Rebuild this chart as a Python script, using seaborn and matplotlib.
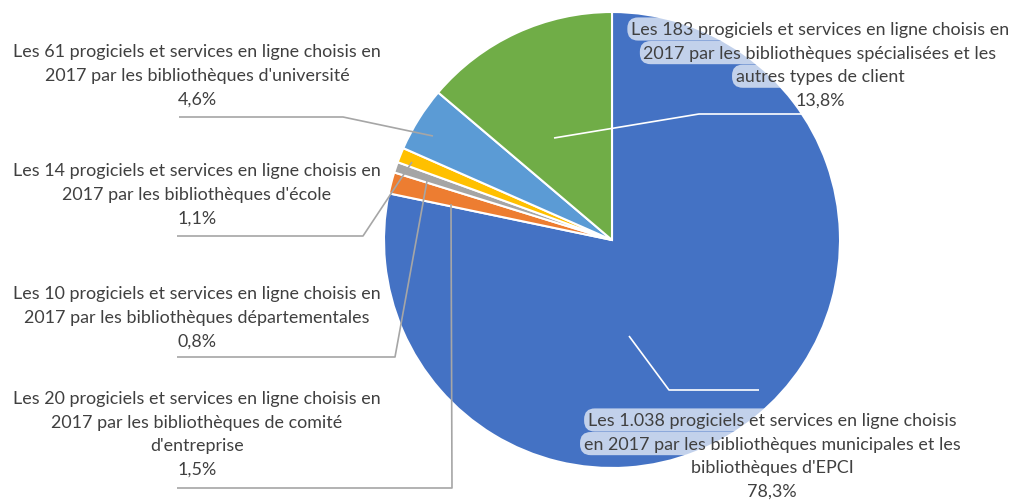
import matplotlib
matplotlib.use("Agg")
import matplotlib.pyplot as plt
import seaborn as sns

# slices, clockwise from 12 o'clock
counts = [1038, 20, 10, 14, 61, 183]
colors = ["#4472C4", "#ED7D31", "#A5A5A5", "#FFC000", "#5B9BD5", "#70AD47"]

# label text broken the way the reference wraps it
label_lines = [
    ["Les 1.038 progiciels et services en ligne choisis",
     "en 2017 par les bibliothèques municipales et les",
     "bibliothèques d'EPCI"],
    ["Les 20 progiciels et services en ligne choisis en",
     "2017 par les bibliothèques de comité",
     "d'entreprise"],
    ["Les 10 progiciels et services en ligne choisis en",
     "2017 par les bibliothèques départementales"],
    ["Les 14 progiciels et services en ligne choisis en",
     "2017 par les bibliothèques d'école"],
    ["Les 61 progiciels et services en ligne choisis en",
     "2017 par les bibliothèques d'université"],
    ["Les 183 progiciels et services en ligne choisis en",
     "2017 par les bibliothèques spécialisées et les",
     "autres types de client"],
]

# layout (pixel coords, y from top)
W, H = 1018, 502
center = (612, 241)
radius = 228
label_pos = [(772, 421), (197, 399), (197, 294), (197, 171), (197, 52), (820, 30)]
line_step = 23.6
boxed = [True, False, False, False, False, True]
leaders = [
    [(629, 337), (669, 391), (759, 391)],
    [(451, 205), (452, 489), (177, 489)],
    [(427, 182), (395, 358), (177, 358)],
    [(412, 163), (363, 237), (177, 237)],
    [(433, 137), (343, 118), (179, 118)],
    [(554, 139), (699, 115), (803, 115)],
]
leader_colors = ["white", "#A6A6A6", "#A6A6A6", "#A6A6A6", "#A6A6A6", "white"]

sns.set_theme(style="white")
plt.rcParams["font.family"] = ["Lato", "DejaVu Sans"]

fig = plt.figure(figsize=(W / 100, H / 100), dpi=100)
ax = fig.add_axes([0, 0, 1, 1])


def Y(y):
    return H - y


ax.pie(counts, colors=colors, startangle=90, counterclock=False,
       center=(center[0], Y(center[1])), radius=radius,
       wedgeprops=dict(edgecolor="white", linewidth=1.5))
ax.set_xlim(0, W)
ax.set_ylim(0, H)
ax.set_aspect("equal")
ax.axis("off")

total = sum(counts)
for i, v in enumerate(counts):
    pct = f"{v / total * 100:.1f}%".replace(".", ",")
    pts = leaders[i]
    ax.plot([p[0] for p in pts], [Y(p[1]) for p in pts],
            color=leader_colors[i], lw=1.2, zorder=3, solid_capstyle="butt")
    x0, y0 = label_pos[i]
    lines = label_lines[i] + [pct]
    for k, line in enumerate(lines):
        kw = {}
        if boxed[i] and k < len(lines) - 1:
            kw["bbox"] = dict(boxstyle="round,pad=0.2,rounding_size=0.6",
                              fc="white", ec="none", alpha=0.68)
        ax.text(x0, Y(y0 + k * line_step), line, ha="center", va="center",
                fontsize=12.9, color="#404040", zorder=4, **kw)

fig.savefig("out.png", dpi=100)
